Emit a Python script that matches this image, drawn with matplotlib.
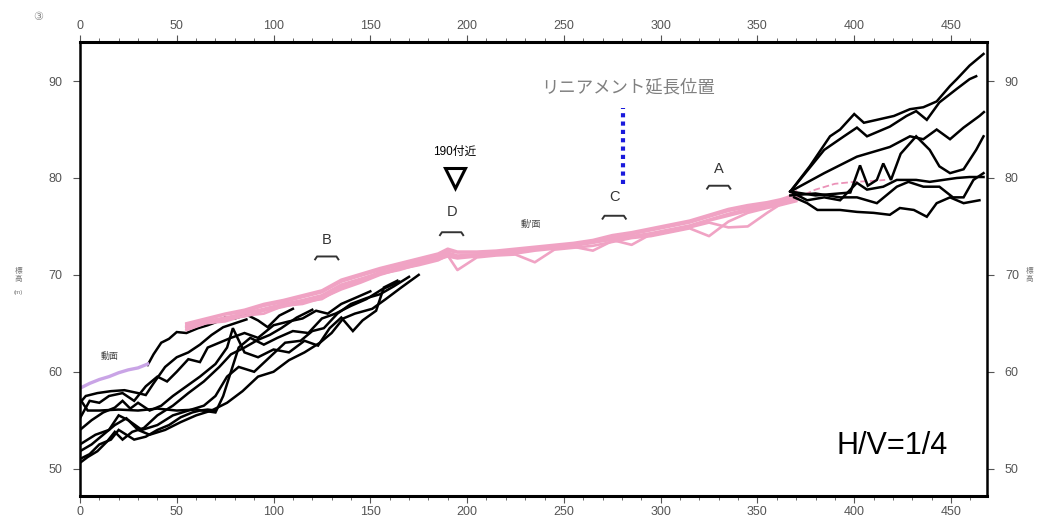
import matplotlib
matplotlib.use("Agg")
import matplotlib.pyplot as plt
from matplotlib.ticker import MultipleLocator

plt.rcParams['font.family'] = ['Liberation Sans', 'Noto Sans CJK JP', 'DejaVu Sans']

# --- profile data (distance m, elevation m) ---
purple_x = [0, 5, 10, 15, 20, 25, 30, 35]
purple_y = [58.3, 58.8, 59.2, 59.5, 59.9, 60.2, 60.4, 60.8]

left_1_x = [35, 38, 42, 46, 50, 55, 61, 66, 70, 75, 80, 86, 92, 97, 103, 110]
left_1_y = [60.7, 61.8, 63.0, 63.4, 64.1, 64.0, 64.5, 64.8, 65.1, 65.6, 65.5, 65.9, 65.3, 64.6, 65.8, 66.5]
left_2_x = [0, 3, 9, 16, 23, 30, 34, 38, 44, 50, 56, 62, 68, 74, 80, 86]
left_2_y = [56.8, 57.5, 57.8, 58.0, 58.1, 57.8, 57.6, 58.8, 60.5, 61.5, 62.0, 62.8, 63.8, 64.6, 65.0, 65.4]
left_3_x = [0, 5, 10, 15, 22, 28, 34, 40, 45, 50, 56, 62, 66, 72, 78, 85, 92, 100, 108, 115, 122, 128, 135, 142, 150]
left_3_y = [55.2, 57.0, 56.8, 57.5, 57.8, 57.0, 58.5, 59.5, 59.0, 60.0, 61.3, 61.0, 62.5, 63.0, 63.5, 64.0, 63.5, 64.8, 65.2, 65.5, 66.3, 66.0, 67.0, 67.6, 68.3]
left_4_x = [0, 4, 10, 20, 30, 40, 50, 60, 70, 74, 78, 82, 88, 95, 102, 110, 118, 125, 132, 140, 148, 156, 165]
left_4_y = [57.2, 56.0, 56.0, 56.1, 56.0, 56.2, 56.0, 56.1, 55.8, 57.5, 60.0, 62.5, 63.5, 62.8, 63.5, 64.2, 64.0, 65.5, 66.0, 66.8, 67.5, 68.5, 69.3]
left_5_x = [0, 6, 12, 18, 22, 26, 30, 36, 42, 48, 55, 62, 70, 76, 79, 85, 92, 100, 108, 116, 123, 129, 135, 141, 146, 153, 157, 164]
left_5_y = [54.0, 55.0, 55.8, 56.3, 57.0, 56.2, 56.8, 56.0, 56.5, 57.5, 58.5, 59.5, 60.8, 62.5, 64.5, 62.0, 61.5, 62.3, 62.0, 63.2, 62.7, 64.5, 65.6, 64.2, 65.3, 66.3, 68.7, 69.4]
left_6_x = [0, 8, 15, 20, 25, 32, 40, 48, 56, 64, 70, 76, 82, 90, 98, 106, 114, 120, 126, 133, 140, 148, 155, 162, 170]
left_6_y = [52.5, 53.5, 54.0, 55.5, 55.0, 54.0, 54.5, 55.5, 56.0, 56.5, 57.5, 59.5, 60.5, 60.0, 61.5, 63.0, 63.2, 64.2, 64.5, 66.0, 67.0, 67.6, 68.0, 68.8, 69.8]
left_7_x = [0, 6, 12, 18, 24, 30, 36, 44, 52, 60, 68, 76, 84, 92, 100, 108, 116, 124, 130, 136, 142, 151, 158, 166, 175]
left_7_y = [51.8, 52.5, 53.5, 54.5, 55.2, 54.0, 53.5, 54.0, 54.8, 55.5, 56.0, 56.8, 58.0, 59.5, 60.0, 61.2, 62.0, 63.0, 64.0, 65.5, 66.0, 66.5, 67.5, 68.7, 70.0]
left_8_x = [0, 5, 10, 16, 20, 24, 28, 34, 40, 46, 52, 58, 62, 66, 70]
left_8_y = [51.0, 51.5, 52.5, 53.0, 54.0, 53.5, 53.0, 53.3, 54.0, 54.5, 55.3, 55.8, 56.0, 56.1, 56.0]
left_9_x = [0, 4, 9, 14, 18, 22, 27, 33, 40, 48, 56, 64, 72, 78, 85, 92, 98, 104, 112, 120]
left_9_y = [50.6, 51.2, 51.8, 52.8, 53.8, 53.0, 53.8, 54.2, 55.5, 56.5, 57.8, 59.0, 60.5, 61.8, 62.5, 63.3, 63.8, 64.5, 65.6, 66.4]

pink_x = [55, 65, 75, 85, 95, 105, 115, 125, 135, 145, 155, 165, 175, 185, 190, 195, 205, 215, 225,
          235, 245, 255, 265, 275, 285, 295, 305, 315, 325, 335, 345, 355, 362, 370]
pink_1_y = [64.7, 65.2, 65.6, 66.0, 66.5, 67.0, 67.4, 67.9, 69.0, 69.6, 70.2, 70.8, 71.3, 71.8, 72.3, 72.0, 72.1, 72.2, 72.4,
            72.6, 72.8, 73.0, 73.3, 73.7, 74.0, 74.3, 74.7, 75.1, 75.7, 76.3, 76.8, 77.1, 77.4, 77.8]
pink_2_y = [64.3, 65.0, 65.2, 65.8, 66.0, 66.8, 67.0, 67.6, 68.5, 69.2, 70.0, 70.6, 71.0, 71.5, 72.0, 70.5, 71.8, 72.0, 72.1,
            71.3, 72.6, 72.8, 73.0, 73.4, 73.8, 74.0, 74.4, 74.8, 74.0, 75.5, 76.4, 76.9, 77.2, 77.6]
pink_3_y = [64.9, 65.4, 65.9, 66.2, 66.8, 67.2, 67.7, 68.2, 69.3, 69.9, 70.5, 71.0, 71.5, 72.0, 72.5, 72.3, 72.3, 72.4, 72.6,
            72.8, 73.0, 73.2, 73.5, 73.9, 74.2, 74.6, 75.0, 75.4, 76.0, 76.6, 77.0, 77.3, 77.6, 78.0]
pink_4_y = [64.5, 65.1, 65.5, 65.7, 66.3, 66.7, 67.2, 67.5, 68.7, 69.4, 70.1, 70.5, 71.1, 71.6, 71.9, 71.7, 71.9, 72.1, 72.2,
            72.5, 72.7, 72.9, 72.5, 73.5, 73.9, 74.1, 74.5, 74.9, 75.4, 74.9, 75.0, 76.4, 77.3, 77.7]
pink_5_y = [65.0, 65.5, 66.0, 66.4, 67.0, 67.4, 67.9, 68.4, 69.5, 70.1, 70.7, 71.2, 71.7, 72.2, 72.7, 72.4, 72.4, 72.5, 72.7,
            72.9, 73.1, 73.3, 73.6, 74.1, 74.4, 74.8, 75.2, 75.6, 76.2, 76.8, 77.2, 77.5, 77.8, 78.3]
pink_6_y = [64.6, 65.3, 65.4, 66.1, 66.4, 66.9, 67.3, 67.8, 68.8, 69.5, 70.3, 70.7, 71.2, 71.7, 72.1, 71.9, 72.0, 72.3, 72.3,
            72.7, 72.9, 73.1, 73.4, 73.6, 73.1, 74.2, 74.6, 75.0, 75.6, 76.1, 76.6, 77.0, 77.5, 78.6]
pink_tail_x = [370, 380, 390, 400, 410, 416]
pink_tail_y = [77.9, 78.8, 79.4, 79.6, 79.7, 79.8]

right_1_x = [367, 377, 387.5, 392.7, 400, 405, 411.7, 420.5, 428.8, 435.7, 442.6, 449.5, 453, 459.6, 466.8]
right_1_y = [78.6, 81.2, 84.3, 85.0, 86.6, 85.7, 86.0, 86.4, 87.1, 87.3, 87.9, 89.5, 90.2, 91.6, 92.8]
right_2_x = [367, 384.5, 394.7, 401.4, 406.6, 418.4, 427, 432, 437.5, 444, 453, 459.6, 463]
right_2_y = [78.6, 82.9, 84.3, 85.2, 84.3, 85.3, 86.4, 86.9, 86.0, 87.8, 89.2, 90.2, 90.5]
right_3_x = [367, 384.5, 401.4, 418.4, 428.8, 435.7, 442.6, 449.5, 456.5, 464.7, 467]
right_3_y = [78.6, 80.5, 82.2, 83.2, 84.3, 84.0, 85.0, 84.0, 85.2, 86.4, 86.8]
right_4_x = [367, 380, 392, 398, 403, 407, 411.7, 415, 419, 424, 432, 439, 444, 449.5, 456.5, 463, 466.8]
right_4_y = [78.6, 78.2, 78.4, 78.5, 81.3, 79.2, 79.8, 81.5, 79.8, 82.5, 84.3, 82.9, 81.2, 80.5, 80.9, 82.9, 84.3]
right_5_x = [367, 375.7, 384.5, 392.7, 401.4, 406.6, 415, 422, 432, 439, 446, 453, 459.6, 466.8]
right_5_y = [78.6, 77.7, 78.0, 77.7, 79.5, 78.8, 79.1, 79.8, 79.8, 79.6, 79.8, 80.0, 80.1, 80.1]
right_6_x = [367, 380, 392.7, 401.4, 411.7, 422, 428, 435.7, 444, 451, 456.5, 461.6, 466.8]
right_6_y = [78.2, 78.4, 78.0, 78.0, 77.4, 79.1, 79.6, 79.1, 79.1, 78.0, 78.0, 79.8, 80.5]
right_7_x = [369, 375.7, 381, 392.7, 401.4, 410, 418.4, 423.6, 430.8, 437.5, 442.6, 449.5, 456.5, 464.7]
right_7_y = [78.0, 77.4, 76.7, 76.7, 76.5, 76.4, 76.2, 76.9, 76.7, 76.0, 77.4, 78.0, 77.4, 77.7]

# annotations
lineament_x = 280.5
lineament_y = [79.4, 87.2]
marker_x, marker_y = 193.5, 80.0
site_labels = ['A', 'B', 'C', 'D']
site_x = [330, 127.5, 276, 192]
site_y = [80.9, 73.6, 78.0, 76.5]
bracket_y = [79.2, 71.9, 76.1, 74.4]
bracket_half = 6

fig = plt.figure(figsize=(10.37, 5.23), dpi=100)
ax = fig.add_axes([0.0771, 0.052, 0.8745, 0.868])

black = dict(color='black', lw=1.8, solid_joinstyle='miter')
for xs, ys in [(left_1_x, left_1_y), (left_2_x, left_2_y), (left_3_x, left_3_y), (left_4_x, left_4_y),
               (left_5_x, left_5_y), (left_6_x, left_6_y), (left_7_x, left_7_y), (left_8_x, left_8_y),
               (left_9_x, left_9_y)]:
    ax.plot(xs, ys, **black)

for ys in [pink_1_y, pink_2_y, pink_3_y, pink_4_y, pink_5_y, pink_6_y]:
    ax.plot(pink_x, ys, color='#f0a3c4', lw=1.9)
ax.plot(pink_tail_x, pink_tail_y, color='#eb92b8', lw=1.3, ls='--')
ax.plot(purple_x, purple_y, color='#c9a4e6', lw=2.4)

for xs, ys in [(right_1_x, right_1_y), (right_2_x, right_2_y), (right_3_x, right_3_y), (right_4_x, right_4_y),
               (right_5_x, right_5_y), (right_6_x, right_6_y), (right_7_x, right_7_y)]:
    ax.plot(xs, ys, **black)

# lineament extension
ax.plot([lineament_x, lineament_x], lineament_y, color='#1a1adc', lw=3, ls=(0, (1, 1)))
ax.text(283, 89.3, 'リニアメント延長位置', ha='center', va='center', fontsize=12.5,
        color='#808080', family=['Noto Sans CJK JP'])

ax.plot(marker_x, marker_y, marker='v', ms=15, mfc='white', mec='black', mew=2.2)
ax.text(marker_x, 82.7, '190付近', ha='center', va='center', fontsize=8.5,
        family=['Liberation Sans', 'Noto Sans CJK JP'])

for lab, sx, sy, by in zip(site_labels, site_x, site_y, bracket_y):
    ax.text(sx, sy, lab, ha='center', va='center', fontsize=10.5, color='#333333')
    ax.plot([sx - bracket_half, sx - bracket_half + 1, sx + bracket_half - 1, sx + bracket_half],
            [by - 0.3, by, by, by - 0.3], color='#333333', lw=1.4)

ax.text(15.5, 61.6, "動面", ha='center', va='center', fontsize=6.5, color='#444444',
        family=['Noto Sans CJK JP'])
ax.text(233, 75.2, "動'面", ha='center', va='center', fontsize=6.5, color='#444444',
        family=['Noto Sans CJK JP'])

ax.text(419.5, 52.3, 'H/V=1/4', ha='center', va='center', fontsize=22, color='black')

ax.set_xlim(0, 468.5)
ax.set_ylim(47.2, 94.05)
ax.xaxis.set_major_locator(MultipleLocator(50))
ax.xaxis.set_minor_locator(MultipleLocator(10))
ax.yaxis.set_major_locator(MultipleLocator(10))
ax.tick_params(axis='both', which='both', direction='out', colors='#555555', labelsize=9,
               top=True, right=True, labeltop=True, labelright=True)
ax.tick_params(axis='both', which='major', length=5, width=0.8)
ax.tick_params(axis='x', which='minor', length=3, width=0.6)
ax.tick_params(axis='x', which='major', pad=2)
ax.tick_params(axis='y', which='major', pad=8)
for lab in ax.get_xticklabels() + ax.get_yticklabels():
    lab.set_color('#555555')
for side in ['top', 'bottom']:
    ax.spines[side].set_linewidth(2.2)
for side in ['left', 'right']:
    ax.spines[side].set_linewidth(1.8)

fig.text(0.018, 0.475, '標\n高', ha='center', va='center', fontsize=5.5, color='#777777',
         family=['Noto Sans CJK JP'], linespacing=1.0)
fig.text(0.018, 0.44, '(m)', ha='center', va='center', fontsize=4.5, color='#777777')
fig.text(0.993, 0.475, '標\n高', ha='center', va='center', fontsize=5.5, color='#777777',
         family=['Noto Sans CJK JP'], linespacing=1.0)
fig.text(0.037, 0.967, '③', ha='center', va='center', fontsize=8, color='#888888',
         family=['DejaVu Sans'])

fig.savefig('out.png', dpi=100)
